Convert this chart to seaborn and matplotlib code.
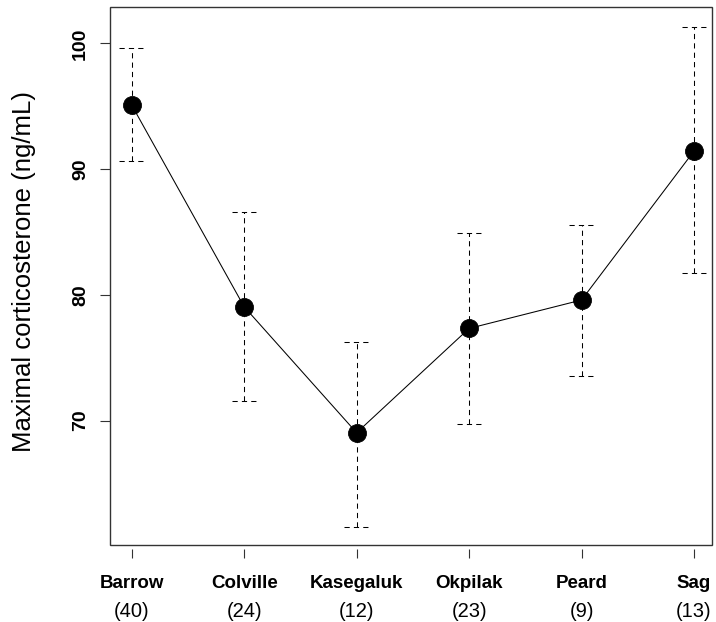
import numpy as np
import pandas as pd
import matplotlib
matplotlib.use("Agg")
import matplotlib.pyplot as plt
from matplotlib.patches import Rectangle
import seaborn as sns

# values
sites = ["Barrow", "Colville", "Kasegaluk", "Okpilak", "Peard", "Sag"]
n_birds = [40, 24, 12, 23, 9, 13]
mean_cort = [95.1, 79.05, 69.03, 77.33, 79.59, 91.44]
upper_cort = [99.6, 86.56, 76.27, 84.9, 85.55, 101.33]
lower_cort = [90.64, 71.55, 61.55, 69.72, 73.56, 81.76]
y_ticks = [70, 80, 90, 100]

sns.set_style("ticks")
plt.rcParams["font.family"] = ["Liberation Sans", "DejaVu Sans"]
plt.rcParams["text.color"] = "black"
plt.rcParams["xtick.labelcolor"] = "black"
plt.rcParams["ytick.labelcolor"] = "black"

df = pd.DataFrame({"site": sites, "mean": mean_cort, "lo": lower_cort, "hi": upper_cort})
pos = np.arange(len(sites))
frame_col = "#333333"

fig = plt.figure(figsize=(7.16, 6.22), dpi=100)
ax = fig.add_axes([110 / 716, 1 - 545 / 622, 602 / 716, 538 / 622])

# dashed error bars with dashed caps, under the points
dash = (0, (5, 4))
ax.vlines(pos, df["lo"], df["hi"], colors="black", linestyles=dash, linewidth=0.75, zorder=1)
ax.hlines(df["hi"], pos - 0.11, pos + 0.11, colors="black", linestyles=dash, linewidth=0.75, zorder=1)
ax.hlines(df["lo"], pos - 0.11, pos + 0.11, colors="black", linestyles=dash, linewidth=0.75, zorder=1)

sns.pointplot(data=df, x="site", y="mean", color="black", errorbar=None,
              markers="o", markersize=13, linewidth=0.75, ax=ax, zorder=3)

ax.set_xlim(-0.193, 5.16)
ax.set_ylim(60.1, 102.9)

# R-like box, with x ticks hanging a little below it
for s in ax.spines.values():
    s.set_visible(False)
ax.spines["bottom"].set_position(("outward", 3))
ax.add_patch(Rectangle((0, 0), 1, 1, transform=ax.transAxes, fill=False,
                       edgecolor=frame_col, linewidth=1, clip_on=False, zorder=5))

ax.set_xticks(pos)
ax.set_xticklabels(sites, fontweight="bold", fontsize=13.5)
ax.tick_params(axis="x", length=6.5, width=0.8, color=frame_col, pad=12)
for i, n in enumerate(n_birds):
    ax.text(pos[i], -0.124, f"({n})", transform=ax.get_xaxis_transform(),
            ha="center", va="center", fontsize=14.5, color="black")

ax.set_yticks(y_ticks)
ax.set_yticklabels([str(v) for v in y_ticks], fontweight="bold", fontsize=14,
                   rotation=90, va="center")
ax.tick_params(axis="y", length=7.2, width=0.8, color=frame_col, pad=8)

ax.set_xlabel("")
ax.set_ylabel("")
fig.text(24 / 716, 1 - 271 / 622, "Maximal corticosterone (ng/mL)", rotation=90,
         ha="center", va="center", fontsize=18.5, color="black")

fig.savefig("out.png", dpi=100)
